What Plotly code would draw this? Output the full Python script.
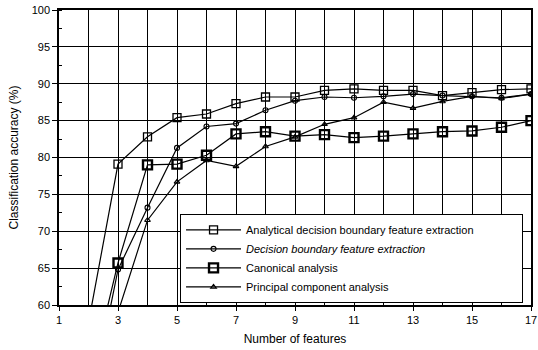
import plotly.graph_objects as go

features = [2, 3, 4, 5, 6, 7, 8, 9, 10, 11, 12, 13, 14, 15, 16, 17]
analytical_dbfe = [57.6, 79.1, 82.8, 85.4, 85.9, 87.3, 88.2, 88.2, 89.1, 89.3, 89.1, 89.1, 88.4, 88.8, 89.2, 89.3]
dbfe = [45.0, 64.8, 73.2, 81.3, 84.2, 84.6, 86.4, 87.7, 88.2, 88.1, 88.3, 88.6, 88.4, 88.3, 88.1, 88.6]
canonical = [49.0, 65.7, 79.0, 79.1, 80.3, 83.2, 83.5, 82.9, 83.1, 82.7, 82.9, 83.2, 83.5, 83.6, 84.1, 85.0]
pca_features = [3, 4, 5, 6, 7, 8, 9, 10, 11, 12, 13, 14, 15, 16, 17]
pca = [59.0, 71.5, 76.7, 79.6, 78.8, 81.5, 82.8, 84.5, 85.4, 87.5, 86.7, 87.6, 88.3, 88.0, 88.6]

names = [
    "Analytical decision boundary feature extraction",
    "<i>Decision boundary feature extraction</i>",
    "Canonical analysis",
    "Principal component analysis",
]

FONT = "Liberation Sans, Arial, sans-serif"
PAD = "\u00a0" * 14  # widen legend box like the reference

fig = go.Figure()
fig.add_trace(go.Scatter(
    x=features, y=analytical_dbfe, name=names[0] + PAD, mode="lines+markers",
    line=dict(color="black", width=1.2),
    marker=dict(symbol="square-open", size=8, color="black", line=dict(width=1.3, color="black")),
))
fig.add_trace(go.Scatter(
    x=features, y=dbfe, name=names[1], mode="lines+markers",
    line=dict(color="black", width=1.2),
    marker=dict(symbol="circle-open", size=5, color="black", line=dict(width=1.1, color="black")),
))
fig.add_trace(go.Scatter(
    x=features, y=canonical, name=names[2], mode="lines+markers",
    line=dict(color="black", width=1.2),
    marker=dict(symbol="square-open", size=9, color="black", line=dict(width=2.4, color="black")),
))
fig.add_trace(go.Scatter(
    x=pca_features, y=pca, name=names[3], mode="lines+markers",
    line=dict(color="black", width=1.2),
    marker=dict(symbol="triangle-up-open", size=5, color="black", line=dict(width=1.1, color="black")),
))

fig.update_layout(
    width=538, height=350,
    margin=dict(l=59, r=7, t=10, b=45),
    paper_bgcolor="white", plot_bgcolor="white",
    font=dict(family=FONT, size=11, color="black"),
    showlegend=True,
    legend=dict(
        x=0.256, y=0.308, xanchor="left", yanchor="top",
        bgcolor="white", bordercolor="black", borderwidth=1.2,
        font=dict(family=FONT, size=11, color="black"),
        itemwidth=55, tracegroupgap=0,
    ),
    xaxis=dict(
        range=[1, 17], tickmode="linear", tick0=1, dtick=2,
        showgrid=True, gridcolor="black", gridwidth=1,
        minor=dict(dtick=1, showgrid=True, gridcolor="black", gridwidth=1, ticks=""),
        ticks="outside", ticklen=4, tickcolor="black",
        showline=True, linecolor="black", linewidth=1.5, mirror=True,
        zeroline=False, automargin=False,
        title=dict(text="Number of features", font=dict(size=12), standoff=10),
    ),
    yaxis=dict(
        range=[60, 100], tickmode="linear", tick0=60, dtick=5,
        showgrid=True, gridcolor="black", gridwidth=1,
        minor=dict(dtick=2.5, ticks="inside", ticklen=3, tickcolor="black", showgrid=False),
        ticks="outside", ticklen=5, tickcolor="black",
        showline=True, linecolor="black", linewidth=1.5, mirror=True,
        zeroline=False, automargin=False,
        title=dict(text="Classification accuracy (%)", font=dict(size=12), standoff=10),
    ),
)

fig.write_html("out.html")
